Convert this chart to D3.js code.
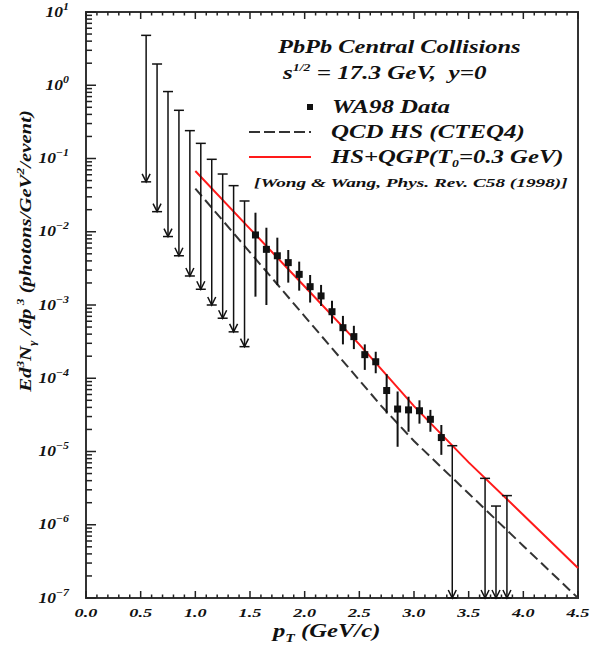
<!DOCTYPE html>
<html>
<head>
<meta charset="utf-8">
<script src="https://cdn.jsdelivr.net/npm/d3@7"></script>
<style>
  body { margin: 0; background: #fff; }
  text { font-family: "Liberation Serif", "DejaVu Serif", serif; font-weight: bold; font-style: italic; fill: #111; }
</style>
</head>
<body>
<div class="canvas"></div>
<script>
// 上限値 (低pT側)
var limLowPt  = [0.55, 0.65, 0.75, 0.85, 0.95, 1.05, 1.15, 1.25, 1.35, 1.45];
var limLowTop = [4.8, 1.95, 0.82, 0.455, 0.24, 0.161, 0.0975, 0.0614, 0.0426, 0.0263];
var limLowBot = [0.048, 0.0188, 0.0086, 0.0047, 0.00249, 0.00164, 0.001, 6.6e-4, 4.3e-4, 2.7e-4];

// WA98 データ点
var dataPt = [1.55, 1.65, 1.75, 1.85, 1.95, 2.05, 2.15, 2.25, 2.35, 2.45, 2.55, 2.65, 2.75, 2.85, 2.95, 3.05, 3.15, 3.25];
var dataY  = [0.00904, 0.00575, 0.0047, 0.00379, 0.00262, 0.00178, 0.00133, 8.1e-4, 4.9e-4, 3.7e-4, 2.1e-4, 1.68e-4, 6.8e-5, 3.8e-5, 3.7e-5, 3.6e-5, 2.75e-5, 1.55e-5];
var dataHi = [0.0182, 0.01135, 0.0083, 0.00564, 0.00391, 0.00257, 0.00188, 0.00114, 7.1e-4, 5.2e-4, 2.9e-4, 2.3e-4, 1.14e-4, 6.6e-5, 5.6e-5, 5.0e-5, 3.7e-5, 2.3e-5];
var dataLo = [0.0013, 0.001, 0.00187, 0.00202, 0.00157, 0.00108, 9.7e-4, 5.6e-4, 2.9e-4, 2.5e-4, 1.3e-4, 1.17e-4, 3.3e-5, 1.16e-5, 1.86e-5, 2.4e-5, 1.86e-5, 9e-6];

// 上限値 (高pT側)
var limHighPt  = [3.35, 3.65, 3.75, 3.85];
var limHighTop = [1.2e-5, 4.3e-6, 1.8e-6, 2.5e-6];
var limHighBot = [1e-7, 1e-7, 1e-7, 1e-7];

// 理論曲線
var qgpPt = [1.0, 1.5, 2.0, 2.5, 3.0, 3.5, 4.0, 4.5];
var qgpY  = [0.0676, 0.01096, 1.79e-3, 2.9e-4, 4.17e-5, 7.1e-6, 1.36e-6, 2.57e-7];
var qcdPt = [1.0, 1.5, 2.0, 2.5, 2.7, 3.0, 3.5, 4.0, 4.5];
var qcdY  = [0.0388, 5.24e-3, 7.0e-4, 9.4e-5, 4.2e-5, 1.39e-5, 2.67e-6, 5.14e-7, 1.0e-7];

// 軸の目盛り
var xTicks = [0, 0.5, 1.0, 1.5, 2.0, 2.5, 3.0, 3.5, 4.0, 4.5];
var xTickLabels = ["0.0", "0.5", "1.0", "1.5", "2.0", "2.5", "3.0", "3.5", "4.0", "4.5"];
var yExps = [1, 0, -1, -2, -3, -4, -5, -6, -7];

var width = 590;
var height = 651;
// window.top とぶつかるので名前を変える
var pL = 86, pR = 578, pT = 12, pB = 598;
var stretch = 1.35; // 元画像の文字は横に広い

var x = d3.scaleLinear().domain([0, 4.5]).range([pL, pR]);
var y = d3.scaleLog().domain([1e-7, 10]).range([pB, pT]);

var svg = d3.select('.canvas')
  .append("svg")
    .attr("width", width)
    .attr("height", height);

// 文字を指定幅に横伸ばしする
function fitText(t, tx, ty, target, rot) {
  var w = t.node().getBBox().width;
  var sx = target / w;
  t.attr("transform", "translate(" + tx + "," + ty + ")" + (rot ? " rotate(" + rot + ")" : "") + " scale(" + sx + ",1)");
}

// 枠
svg.append("rect")
  .attr("x", pL).attr("y", pT)
  .attr("width", pR - pL).attr("height", pB - pT)
  .attr("fill", "none").attr("stroke", "#333").attr("stroke-width", 2);

// x軸の目盛り (下と上)
var xMinor = d3.range(0, 46).map(function(i){ return i / 10; });
svg.append("g").selectAll("line")
  .data(xMinor).enter()
  .append("line")
    .attr("x1", function(d){ return x(d); })
    .attr("x2", function(d){ return x(d); })
    .attr("y1", pB)
    .attr("y2", function(d,i){ return i % 5 == 0 ? pB - 7 : pB - 3.5; })
    .attr("stroke", "#222").attr("stroke-width", 1.5);
svg.append("g").selectAll("line")
  .data(xMinor).enter()
  .append("line")
    .attr("x1", function(d){ return x(d); })
    .attr("x2", function(d){ return x(d); })
    .attr("y1", pT)
    .attr("y2", function(d,i){ return i % 5 == 0 ? pT + 7 : pT + 3.5; })
    .attr("stroke", "#222").attr("stroke-width", 1.5);

svg.append("g").selectAll("text")
  .data(xTicks).enter()
  .append("text")
    .attr("transform", function(d){ return "translate(" + x(d) + ",617) scale(" + stretch + ",1)"; })
    .attr("text-anchor", "middle")
    .attr("font-size", 13.5)
    .text(function(d,i){ return xTickLabels[i]; });

// y軸の目盛り
var yMinor = [];
for (var e = -7; e < 1; e++) {
  for (var m = 2; m < 10; m++) yMinor.push(m * Math.pow(10, e));
}
svg.append("g").selectAll("line")
  .data(yMinor).enter()
  .append("line")
    .attr("x1", pL).attr("x2", pL + 6)
    .attr("y1", function(d){ return y(d); })
    .attr("y2", function(d){ return y(d); })
    .attr("stroke", "#222").attr("stroke-width", 1.5);
svg.append("g").selectAll("line")
  .data(yExps).enter()
  .append("line")
    .attr("x1", pL).attr("x2", pL + 10)
    .attr("y1", function(d){ return y(Math.pow(10, d)); })
    .attr("y2", function(d){ return y(Math.pow(10, d)); })
    .attr("stroke", "#222").attr("stroke-width", 1.5);

var ylab = svg.append("g").selectAll("text")
  .data(yExps).enter()
  .append("text")
    .attr("transform", function(d){ return "translate(69," + (y(Math.pow(10, d)) + 4.5) + ") scale(1.25,1)"; })
    .attr("text-anchor", "end")
    .attr("font-size", 14);
ylab.append("tspan").text("10");
ylab.append("tspan")
  .attr("dy", -7).attr("font-size", 9.5)
  .text(function(d){ return d < 0 ? "\u2212" + (-d) : d; });

// 軸タイトル
var xt = svg.append("text")
  .attr("font-size", 19);
xt.append("tspan").text("p");
xt.append("tspan").attr("dy", 5).attr("font-size", 12).text("T");
xt.append("tspan").attr("dy", -5).text(" (GeV/c)");
fitText(xt, 273, 637, 110);

var yt = svg.append("text")
  .attr("text-anchor", "middle")
  .attr("font-size", 17);
yt.append("tspan").text("Ed");
yt.append("tspan").attr("dy", -7).attr("font-size", 11).text("3");
yt.append("tspan").attr("dy", 7).text("N");
yt.append("tspan").attr("dy", 5).attr("font-size", 11).text("\u03b3");
yt.append("tspan").attr("dy", -5).text("\u00a0/dp");
yt.append("tspan").attr("dy", -7).attr("font-size", 11).text("\u00a03");
yt.append("tspan").attr("dy", 7).text("\u00a0(photons/GeV");
yt.append("tspan").attr("dy", -7).attr("font-size", 11).text("2");
yt.append("tspan").attr("dy", 7).text("/event)");
fitText(yt, 31, 251, 283, -90);

// 理論曲線の描画
var line = d3.line()
  .x(function(d){ return x(d[0]); })
  .y(function(d){ return y(d[1]); });

svg.append("path")
  .datum(d3.zip(qcdPt, qcdY))
  .attr("d", line)
  .attr("fill", "none")
  .attr("stroke", "#333").attr("stroke-width", 2)
  .attr("stroke-dasharray", "10,5");

svg.append("path")
  .datum(d3.zip(qgpPt, qgpY))
  .attr("d", line)
  .attr("fill", "none")
  .attr("stroke", "#ff1a1a").attr("stroke-width", 2);

// 上限値の描画 (矢印)
function drawLimits(pts, tops, bots) {
  var g = svg.append("g").selectAll("g")
    .data(d3.zip(pts, tops, bots)).enter()
    .append("g")
      .attr("stroke", "#111").attr("stroke-width", 1.5).attr("fill", "none");
  g.append("line")
    .attr("x1", function(d){ return x(d[0]); })
    .attr("x2", function(d){ return x(d[0]); })
    .attr("y1", function(d){ return y(d[1]); })
    .attr("y2", function(d){ return y(d[2]); });
  g.append("line")
    .attr("x1", function(d){ return x(d[0]) - 5; })
    .attr("x2", function(d){ return x(d[0]) + 5; })
    .attr("y1", function(d){ return y(d[1]); })
    .attr("y2", function(d){ return y(d[1]); });
  g.append("line")
    .attr("x1", function(d){ return x(d[0]) - 5; })
    .attr("x2", function(d){ return x(d[0]) + 5; })
    .attr("y1", function(d){ return y(d[2]); })
    .attr("y2", function(d){ return y(d[2]); });
  g.append("path")
    .attr("d", function(d){
      var px = x(d[0]), py = y(d[2]);
      return "M" + (px - 4) + "," + (py - 8) + "L" + px + "," + py + "L" + (px + 4) + "," + (py - 8);
    });
}
drawLimits(limLowPt, limLowTop, limLowBot);
drawLimits(limHighPt, limHighTop, limHighBot);

// データ点と誤差棒
var dg = svg.append("g").selectAll("g")
  .data(d3.range(dataPt.length)).enter()
  .append("g");
dg.append("line")
  .attr("x1", function(i){ return x(dataPt[i]); })
  .attr("x2", function(i){ return x(dataPt[i]); })
  .attr("y1", function(i){ return y(dataHi[i]); })
  .attr("y2", function(i){ return y(dataLo[i]); })
  .attr("stroke", "#111").attr("stroke-width", 2);
dg.append("rect")
  .attr("x", function(i){ return x(dataPt[i]) - 3.5; })
  .attr("y", function(i){ return y(dataY[i]) - 3.5; })
  .attr("width", 7).attr("height", 7)
  .attr("fill", "#111");

// 凡例
var t1 = svg.append("text").attr("font-size", 19).text("PbPb Central Collisions");
fitText(t1, 278, 53, 244);

var st = svg.append("text").attr("font-size", 18);
st.append("tspan").text("s");
st.append("tspan").attr("dy", -8).attr("font-size", 10).text("1/2");
st.append("tspan").attr("dy", 8).text("\u00a0= 17.3 GeV,\u00a0\u00a0y=0");
fitText(st, 283, 79, 205);

svg.append("rect")
  .attr("x", 307).attr("y", 104).attr("width", 6).attr("height", 6)
  .attr("fill", "#111");
var t2 = svg.append("text").attr("font-size", 18).text("WA98 Data");
fitText(t2, 332, 113, 118);

svg.append("line")
  .attr("x1", 249).attr("x2", 311).attr("y1", 132).attr("y2", 132)
  .attr("stroke", "#333").attr("stroke-width", 2).attr("stroke-dasharray", "11,4");
var t3 = svg.append("text").attr("font-size", 18).text("QCD HS (CTEQ4)");
fitText(t3, 331, 138, 194);

svg.append("line")
  .attr("x1", 249).attr("x2", 311).attr("y1", 157).attr("y2", 157)
  .attr("stroke", "#ff1a1a").attr("stroke-width", 2);
var qt = svg.append("text").attr("font-size", 18);
qt.append("tspan").text("HS+QGP(T");
qt.append("tspan").attr("dy", 4).attr("font-size", 10).text("0");
qt.append("tspan").attr("dy", -4).text("=0.3 GeV)");
fitText(qt, 331, 163, 234);

var t4 = svg.append("text").attr("font-size", 13).text("[Wong & Wang, Phys. Rev. C58 (1998)]");
fitText(t4, 254, 187, 314);
</script>
</body>
</html>
